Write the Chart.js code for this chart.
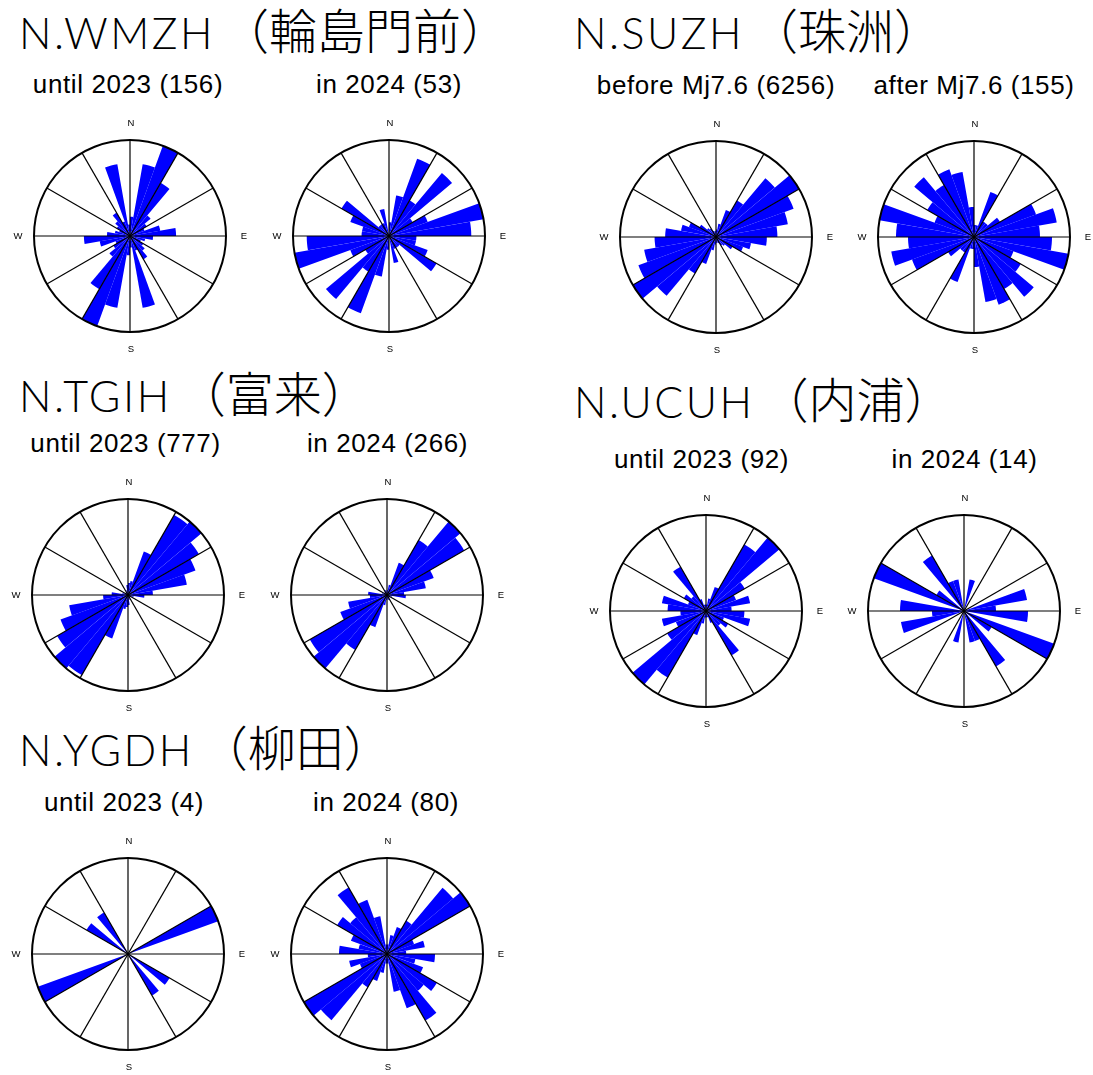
<!DOCTYPE html>
<html>
<head>
<meta charset="utf-8">
<script src="https://cdn.jsdelivr.net/npm/chart.js@4/dist/chart.umd.min.js"></script>
<style>
  html, body { margin: 0; padding: 0; background: #fff; }
  body { width: 1093px; height: 1075px; position: relative; overflow: hidden; }
  .station {
    position: absolute; white-space: nowrap; color: #000;
    font-family: "Noto Sans CJK JP", sans-serif; font-weight: 300;
    font-size: 48px; line-height: 42px;
  }
  .station .code {
    font-family: Lato, "Noto Sans", sans-serif; font-weight: 300;
    font-size: 43px; letter-spacing: 2.5px;
  }
  .station .name { margin-left: 6px; }
  .period {
    position: absolute; width: 320px; text-align: center; white-space: nowrap; color: #000;
    font-family: "Liberation Sans", Arial, sans-serif;
    font-size: 26px; line-height: 26px; letter-spacing: 0.6px;
  }
  canvas.rose { position: absolute; }
</style>
</head>
<body>
<script>
// Azimuth bins (degrees from north, 10° wide). Orientations are axial,
// so the 0–180° counts are repeated on the opposite side (180–360°).
const binStarts = [0, 10, 20, 30, 40, 50, 60, 70, 80, 90, 100, 110, 120, 130, 140, 150, 160, 170];
const compassLabels = ['N', 'E', 'S', 'W'];

// Station headings: code + place name
const stationCodes = ['N.WMZH', 'N.SUZH', 'N.TGIH', 'N.UCUH', 'N.YGDH'];
const stationNames = ['（輪島門前）', '（珠洲）', '（富来）', '（内浦）', '（柳田）'];

// Period names (the count in brackets is the number of measurements)
const periodNames = ['until 2023', 'in 2024', 'before Mj7.6', 'after Mj7.6', 'until 2023',
                     'in 2024', 'until 2023', 'in 2024', 'until 2023', 'in 2024'];

// Counts per 10° bin, 0–10° ... 170–180°
const wmzhUntil2023 = [5, 19, 25, 16, 7, 5, 4, 8, 12, 6, 4, 3, 4, 5, 7, 4, 19, 3];
const wmzhIn2024    = [1, 3, 6, 3, 6, 2, 3, 7, 6, 2, 2, 3, 4, 1, 1, 1, 2, 0];
const suzhBefore    = [73, 128, 275, 403, 733, 916, 788, 696, 586, 485, 339, 275, 183, 110, 92, 64, 55, 55];
const suzhAfter     = [2, 2, 8, 3, 3, 5, 11, 14, 11, 13, 16, 7, 9, 13, 10, 12, 11, 5];
const tgihUntil2023 = [17, 20, 65, 130, 135, 115, 101, 84, 35, 23, 8, 5, 4, 4, 5, 5, 7, 14];
const tgihIn2024    = [3, 6, 20, 37, 56, 52, 29, 23, 10, 11, 3, 2, 2, 2, 2, 3, 3, 2];
const ucuhUntil2023 = [1, 2, 4, 12, 15, 7, 5, 7, 4, 6, 7, 3, 4, 3, 8, 2, 1, 1];
const ucuhIn2024    = [0, 1, 0, 0, 0, 0, 0, 2, 1, 2, 0, 3, 1, 0, 2, 1, 1, 0];
const ygdhUntil2023 = [0, 0, 0, 0, 0, 0, 2, 0, 0, 0, 0, 0, 1, 0, 1, 0, 0, 0];
const ygdhIn2024    = [1, 2, 3, 4, 9, 10, 3, 4, 2, 5, 3, 4, 6, 5, 8, 6, 4, 1];

const roseSeries = [wmzhUntil2023, wmzhIn2024, suzhBefore, suzhAfter, tgihUntil2023,
                    tgihIn2024, ucuhUntil2023, ucuhIn2024, ygdhUntil2023, ygdhIn2024];

// Page placement: heading positions and rose centres
const titleBoxes = [
  { left: 19, base: 49 }, { left: 574, base: 49 }, { left: 19, base: 411.5 },
  { left: 574, base: 417.5 }, { left: 19, base: 765.5 }
];
const roseBoxes = [
  { cx: 130, cy: 236, tx: 128 }, { cx: 389, cy: 236, tx: 389 },
  { cx: 716, cy: 237, tx: 716 }, { cx: 974, cy: 237, tx: 974 },
  { cx: 128, cy: 595, tx: 125.5 }, { cx: 387, cy: 595, tx: 387.5 },
  { cx: 706, cy: 611, tx: 701.5 }, { cx: 964, cy: 611, tx: 964.5 },
  { cx: 128, cy: 954, tx: 124 }, { cx: 387, cy: 954, tx: 386 }
];
const RADIUS = 96;
const HALF = 120;

// N / E / S / W letters just outside the rim
const compassPlugin = {
  id: 'compassLetters',
  afterDraw(chart) {
    const r = chart.scales.r;
    const ctx = chart.ctx;
    ctx.save();
    ctx.font = '9.5px "Liberation Sans", Arial, sans-serif';
    ctx.fillStyle = '#000';
    ctx.textAlign = 'center';
    ctx.textBaseline = 'middle';
    compassLabels.forEach((txt, k) => {
      const p = r.getPointPosition(k * 9, r.drawingArea + 17);
      ctx.fillText(txt, p.x + 1, p.y + 0.5);
    });
    ctx.restore();
  }
};

stationCodes.forEach((code, i) => {
  const d = document.createElement('div');
  d.className = 'station';
  const c = document.createElement('span');
  c.className = 'code';
  c.textContent = code;
  const n = document.createElement('span');
  n.className = 'name';
  n.textContent = stationNames[i];
  d.appendChild(c);
  d.appendChild(n);
  d.style.left = titleBoxes[i].left + 'px';
  d.style.top = (titleBoxes[i].base - 41.9) + 'px';
  document.body.appendChild(d);
});

const binLabels = binStarts.concat(binStarts.map(b => b + 180)).map(b => b + '°');

roseSeries.forEach((counts, i) => {
  const box = roseBoxes[i];
  const total = counts.reduce((a, b) => a + b, 0);
  const peak = Math.max(...counts);

  const sub = document.createElement('div');
  sub.className = 'period';
  sub.textContent = periodNames[i] + ' (' + total + ')';
  sub.style.left = (box.tx - 160) + 'px';
  sub.style.top = (box.cy - 142.7 - 22) + 'px';
  document.body.appendChild(sub);

  const cv = document.createElement('canvas');
  cv.className = 'rose';
  cv.width = 2 * HALF;
  cv.height = 2 * HALF;
  cv.style.left = (box.cx - HALF) + 'px';
  cv.style.top = (box.cy - HALF) + 'px';
  document.body.appendChild(cv);

  new Chart(cv, {
    type: 'polarArea',
    data: {
      labels: binLabels,
      datasets: [{
        data: counts.concat(counts),
        backgroundColor: '#0000ff',
        borderWidth: 0
      }]
    },
    options: {
      responsive: false,
      animation: false,
      layout: { padding: HALF - RADIUS },
      plugins: { legend: { display: false }, tooltip: { enabled: false } },
      scales: {
        r: {
          min: 0,
          max: peak,
          startAngle: 0,
          ticks: { display: false, stepSize: peak },
          pointLabels: { display: false },
          grid: { circular: true, color: '#000', lineWidth: 2, z: 1 },
          angleLines: {
            display: true,
            color: '#000',
            lineWidth: (ctx) => (ctx.index % 3 === 0 ? 1.2 : 0)
          }
        }
      }
    },
    plugins: [compassPlugin]
  });
});
</script>
</body>
</html>
